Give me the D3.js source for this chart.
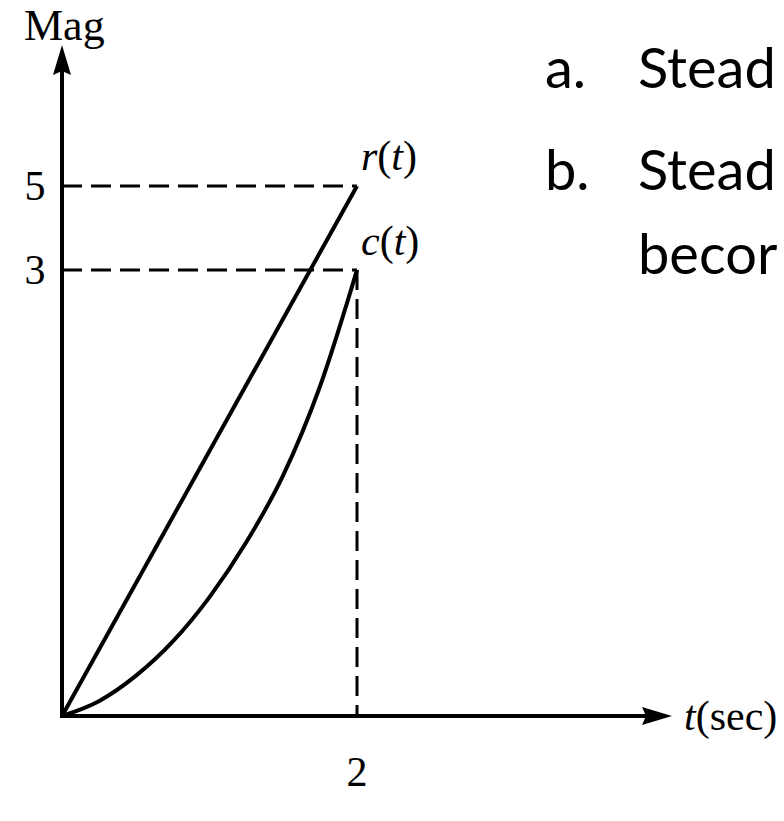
<!DOCTYPE html>
<html>
<head>
<meta charset="utf-8">
<script src="https://cdn.jsdelivr.net/npm/d3@7"></script>
<style>
  body { margin: 0; background: #fff; }
  svg { display: block; }
</style>
</head>
<body>
<div id="chart"></div>
<script>
let w = 784;
let h = 821;

// data
// r(t) is a straight ramp, so only its end points are needed
let rTimes = [0, 2];
let rValues = [0, 5];
let cTimes = [0, 0.25, 0.5, 0.75, 1, 1.25, 1.5, 1.75, 2];
let cValues = [0, 0.1, 0.27, 0.5, 0.8, 1.17, 1.62, 2.22, 3.0];
let yTicks = [5, 3];
let xTicks = [2];
let yLevels = ["5", "3"];
let xTickLabels = ["2"];

let viz = d3.select("#chart")
  .append("svg")
  .attr("width", w)
  .attr("height", h)
  .style("background-color", "white")
;

// the sketch is not to scale, so the y scale is piecewise
let xScale = d3.scaleLinear().domain([0, 2]).range([62, 357]);
let yScale = d3.scaleLinear().domain([0, 3, 5]).range([716, 270, 186]);

let axisTop = 45;
let axisRight = 672;
let serif = "'Liberation Serif', 'Times New Roman', serif";

// dashed guides
let dash = viz.append("g")
  .attr("stroke", "black")
  .attr("stroke-width", 3)
  .attr("stroke-dasharray", "20 9")
  .attr("fill", "none");

yTicks.forEach(v=>{
  dash.append("line")
    .attr("x1", xScale(0)).attr("y1", yScale(v))
    .attr("x2", xScale(2)).attr("y2", yScale(v));
});
xTicks.forEach(t=>{
  dash.append("line")
    .attr("x1", xScale(t)).attr("y1", yScale(cValues[cValues.length-1]))
    .attr("x2", xScale(t)).attr("y2", yScale(0));
});

// axes with arrow heads
let x0 = xScale(0), y0 = yScale(0);
let axes = viz.append("g");
axes.append("line")
  .attr("x1", x0).attr("y1", y0 + 2)
  .attr("x2", x0).attr("y2", axisTop + 20)
  .attr("stroke", "black").attr("stroke-width", 4);
axes.append("line")
  .attr("x1", x0 - 2).attr("y1", y0)
  .attr("x2", axisRight - 20).attr("y2", y0)
  .attr("stroke", "black").attr("stroke-width", 4);

axes.append("path")
  .attr("d", `M${x0},${axisTop} L${x0+9},${axisTop+30} L${x0},${axisTop+26} L${x0-9},${axisTop+30} Z`)
  .attr("fill", "black");
axes.append("path")
  .attr("d", `M${axisRight},${y0} L${axisRight-30},${y0-9} L${axisRight-26},${y0} L${axisRight-30},${y0+9} Z`)
  .attr("fill", "black");

// r(t) and c(t)
let rData = rTimes.map((t, i)=>({t: t, v: rValues[i]}));
let cData = cTimes.map((t, i)=>({t: t, v: cValues[i]}));

let line = d3.line()
  .x(d=>xScale(d.t))
  .y(d=>yScale(d.v));

let cLine = d3.line()
  .x(d=>xScale(d.t))
  .y(d=>yScale(d.v))
  .curve(d3.curveMonotoneX);

viz.append("path")
  .datum(rData)
  .attr("d", line)
  .attr("fill", "none")
  .attr("stroke", "black")
  .attr("stroke-width", 4);

viz.append("path")
  .datum(cData)
  .attr("d", cLine)
  .attr("fill", "none")
  .attr("stroke", "black")
  .attr("stroke-width", 4);

// labels
viz.append("text")
  .attr("x", 24).attr("y", 40)
  .attr("font-family", serif)
  .attr("font-size", 44)
  .text("Mag");

viz.selectAll(".ylabel").data(yTicks).enter()
  .append("text")
  .attr("class", "ylabel")
  .attr("x", 35)
  .attr("y", d=>yScale(d) + 14)
  .attr("text-anchor", "middle")
  .attr("font-family", serif)
  .attr("font-size", 42)
  .text((d, i)=>yLevels[i]);

viz.selectAll(".xlabel").data(xTicks).enter()
  .append("text")
  .attr("class", "xlabel")
  .attr("x", d=>xScale(d))
  .attr("y", 786)
  .attr("text-anchor", "middle")
  .attr("font-family", serif)
  .attr("font-size", 42)
  .text((d, i)=>xTickLabels[i]);

function fnLabel(x, y, name, arg){
  let t = viz.append("text")
    .attr("x", x).attr("y", y)
    .attr("font-family", serif)
    .attr("font-size", 42);
  t.append("tspan").attr("font-style", "italic").text(name);
  t.append("tspan").text("(");
  t.append("tspan").attr("font-style", "italic").text(arg);
  t.append("tspan").text(")");
}
fnLabel(361, 170, "r", "t");
fnLabel(361, 255, "c", "t");

let tl = viz.append("text")
  .attr("x", 684).attr("y", 730)
  .attr("font-family", serif)
  .attr("font-size", 42);
tl.append("tspan").attr("font-style", "italic").text("t");
tl.append("tspan").text("(sec)");

// text on the right, cut off by the page edge as in the source slide
let sans = "Lato, 'Open Sans', sans-serif";
let notes = [
  {mark: "a.", lines: ["Stead"], y: 88},
  {mark: "b.", lines: ["Stead", "becor"], y: 190}
];
notes.forEach(n=>{
  viz.append("text")
    .attr("x", 545).attr("y", n.y)
    .attr("font-family", sans).attr("font-size", 56)
    .text(n.mark);
  n.lines.forEach((s, i)=>{
    viz.append("text")
      .attr("x", 638).attr("y", n.y + i * 84)
      .attr("font-family", sans).attr("font-size", 56)
      .text(s);
  });
});
</script>
</body>
</html>
